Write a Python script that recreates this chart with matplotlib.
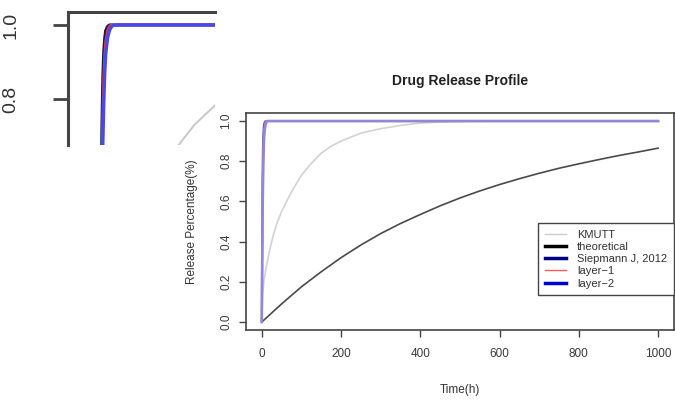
import matplotlib
matplotlib.use("Agg")
import matplotlib.pyplot as plt
from matplotlib.lines import Line2D

plt.rcParams["font.family"] = ["Liberation Sans", "DejaVu Sans"]

# ── Release data ─────────────────────────────────────────────
# slow profiles (hours, fraction released)
t_kmutt = [0, 2, 5, 10, 20, 30, 40, 50, 65, 80, 100, 125, 150, 175, 200,
           250, 300, 350, 400, 450, 500, 600, 700, 800, 900, 1000]
kmutt   = [0.0, 0.14, 0.20, 0.26, 0.36, 0.44, 0.50, 0.55, 0.61, 0.665,
           0.73, 0.79, 0.84, 0.875, 0.90, 0.94, 0.962, 0.978, 0.99, 0.995,
           0.998, 1.0, 1.0, 1.0, 1.0, 1.0]

t_theo      = [0, 50, 100, 150, 200, 250, 300, 350, 400, 450, 500, 550, 600,
               650, 700, 750, 800, 850, 900, 950, 1000]
theoretical = [0.0, 0.09, 0.175, 0.25, 0.32, 0.383, 0.44, 0.49, 0.535, 0.578,
               0.617, 0.652, 0.684, 0.713, 0.74, 0.765, 0.787, 0.808, 0.828,
               0.846, 0.865]

# fast profiles
t_fast   = [0, 1, 2, 3, 4, 5, 6, 8, 10, 12, 15, 20, 1000]
siepmann = [0, 0.45, 0.72, 0.86, 0.93, 0.965, 0.985, 0.996, 1.0, 1.0, 1.0, 1.0, 1.0]
layer1   = [0, 0.35, 0.60, 0.76, 0.86, 0.92, 0.955, 0.985, 0.996, 1.0, 1.0, 1.0, 1.0]
layer2   = [0, 0.30, 0.52, 0.68, 0.79, 0.87, 0.92, 0.965, 0.985, 0.995, 1.0, 1.0, 1.0]

labels = ["KMUTT", "theoretical", "Siepmann J, 2012", "layer\u22121", "layer\u22122"]
x_ticks = [0, 200, 400, 600, 800, 1000]
y_ticks = [0.0, 0.2, 0.4, 0.6, 0.8, 1.0]

GREY = "#444444"

fig = plt.figure(figsize=(6.75, 4.0), dpi=100)

# ── Main panel ───────────────────────────────────────────────
ax = fig.add_axes([0.3644, 0.175, 0.634, 0.5425])
ax.plot(t_kmutt, kmutt, color="#d2d2d2", lw=1.2)
ax.plot(t_theo, theoretical, color="#4a4a4a", lw=1.2)
ax.plot(t_fast, siepmann, color="#55559e", lw=1.6)
ax.plot(t_fast, layer1, color="#d97a8a", lw=1.4)
ax.plot(t_fast, layer2, color="#9486dc", lw=1.8)

ax.set_xlim(-40, 1040)
ax.set_ylim(-0.04, 1.04)
ax.set_xticks(x_ticks)
ax.set_yticks(y_ticks)
ax.set_xticklabels([str(v) for v in x_ticks])
ax.set_yticklabels([f"{v:.1f}" for v in y_ticks], rotation=90, va="center")
ax.tick_params(axis="both", direction="out", length=5, width=1,
               color=GREY, labelcolor="#3a3a3a", labelsize=8.5)
ax.tick_params(axis="x", pad=8)
ax.tick_params(axis="y", pad=5)
for sp in ax.spines.values():
    sp.set_color(GREY)
    sp.set_linewidth(1.2)

ax.set_title("Drug Release Profile", fontsize=10, fontweight="bold",
             color="#222222", pad=20)
ax.set_xlabel("Time(h)", fontsize=8.5, color="#333333", labelpad=17)
ax.set_ylabel("Release Percentage(%)", fontsize=8.5, color="#333333", labelpad=16)

handles = [
    Line2D([], [], color="#cccccc", lw=1.0),
    Line2D([], [], color="black", lw=2.5),
    Line2D([], [], color="#000080", lw=2.5),
    Line2D([], [], color="#ff5a5a", lw=1.0),
    Line2D([], [], color="#0000cc", lw=2.5),
]
leg = ax.legend(handles, labels, loc="upper left",
                bbox_to_anchor=(0.797, 0.4425), bbox_transform=fig.transFigure,
                fontsize=8, frameon=True, fancybox=False, framealpha=1,
                edgecolor=GREY, borderaxespad=0, handlelength=1.9,
                handletextpad=1.0, labelspacing=0.2, borderpad=0.6)
leg.get_frame().set_linewidth(1.0)
for txt in leg.get_texts():
    txt.set_color("#333333")

# ── Zoomed inset of the plateau ──────────────────────────────
ins = fig.add_axes([0.1007, 0.6375, 0.2178, 0.3325])
ins.plot(t_kmutt, kmutt, color="#c8c8c8", lw=1.4)
ins.plot(t_theo, theoretical, color="#4a4a4a", lw=1.4)
ins.plot(t_fast, siepmann, color="#1a1a40", lw=2.2)
ins.plot(t_fast, layer1, color="#e03a4a", lw=2.0)
ins.plot(t_fast, layer2, color="#4848f0", lw=2.4)
ins.set_xlim(-34, 122)
ins.set_ylim(0.676, 1.035)
ins.set_xticks([])
ins.set_yticks([0.8, 1.0])
ins.set_yticklabels(["0.8", "1.0"], rotation=90, va="center")
ins.tick_params(axis="y", direction="out", length=11, width=2,
                color=GREY, labelcolor="#333333", labelsize=14, pad=24)
ins.spines["right"].set_visible(False)
ins.spines["bottom"].set_visible(False)
for side in ["left", "top"]:
    ins.spines[side].set_color(GREY)
    ins.spines[side].set_linewidth(2.2)

fig.savefig("out.png", dpi=100, facecolor="white")
